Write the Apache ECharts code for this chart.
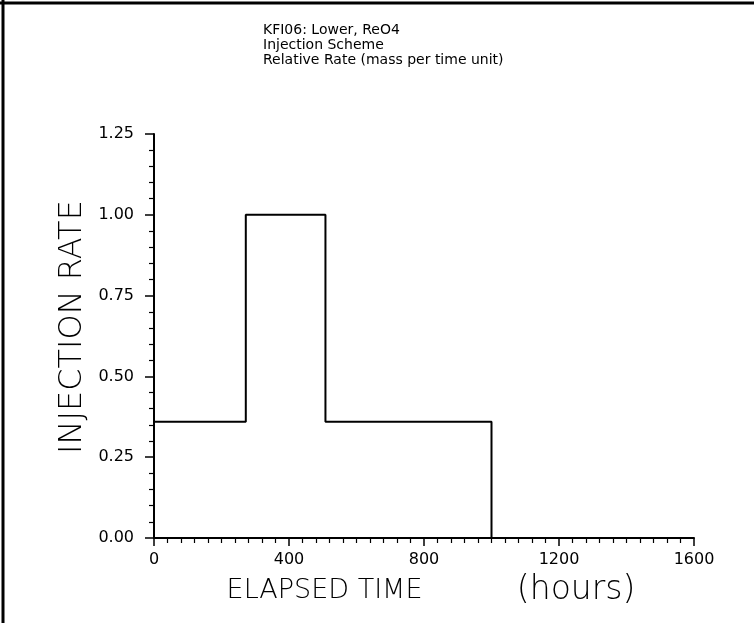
<!DOCTYPE html>
<html>
<head>
<meta charset="utf-8">
<script src="https://cdn.jsdelivr.net/npm/echarts@6/dist/echarts.min.js"></script>
<style>
html,body{margin:0;padding:0;background:#fff;}
#chart{width:754px;height:623px;}
</style>
</head>
<body>
<div id="chart"></div>
<script>
// Data
var titleLines = ["KFI06: Lower, ReO4", "Injection Scheme", "Relative Rate (mass per time unit)"];
var times = [0, 272, 272, 508, 508, 1000, 1000];
var rates = [0.36, 0.36, 1.00, 1.00, 0.36, 0.36, 0.00];
var xTicks = [0, 400, 800, 1200, 1600];
var yTicks = [0.00, 0.25, 0.50, 0.75, 1.00, 1.25];
var xNameMain = "ELAPSED TIME";
var xNameUnit = "(hours)";
var yName = "INJECTION RATE";

var chart = echarts.init(document.getElementById('chart'), null, {renderer: 'canvas'});
var font = "'DejaVu Sans', sans-serif";
var pts = times.map(function (t, i) { return [t, rates[i]]; });

chart.setOption({
  backgroundColor: '#fff',
  animation: false,
  title: {
    text: titleLines.join('\n'),
    left: 258, top: 18,
    textStyle: {fontFamily: font, fontSize: 14, fontWeight: 'normal', color: '#000', lineHeight: 15}
  },
  grid: {left: 154, right: 60, top: 134, bottom: 85},
  xAxis: {
    type: 'value', min: xTicks[0], max: xTicks[xTicks.length - 1], interval: 400,
    name: '{a|' + xNameMain + '}{a|           }{b|' + xNameUnit + '}',
    nameLocation: 'middle', nameGap: 36, nameMoveOverlap: false,
    nameTextStyle: {fontFamily: font, fontSize: 27, fontWeight: 200, color: '#000', padding: [0, 0, 0, 14],
      rich: {
        a: {fontFamily: font, fontSize: 27, fontWeight: 200, color: '#000'},
        b: {fontFamily: font, fontSize: 33, fontWeight: 200, color: '#000'}
      }},
    axisLine: {show: true, onZero: false, lineStyle: {color: '#000', width: 2}},
    axisTick: {show: true, inside: false, length: 8, lineStyle: {color: '#000', width: 1.5}},
    minorTick: {show: true, splitNumber: 10, length: 5, lineStyle: {color: '#000', width: 1.2}},
    splitLine: {show: false},
    axisLabel: {fontFamily: font, fontSize: 16, color: '#000', margin: 14,
      formatter: function (v) { return String(v); }}
  },
  yAxis: {
    type: 'value', min: yTicks[0], max: yTicks[yTicks.length - 1], interval: 0.25,
    name: yName, nameLocation: 'middle', nameGap: 65, nameRotate: 90, nameMoveOverlap: false,
    nameTextStyle: {fontFamily: font, fontSize: 32, fontWeight: 200, color: '#000', padding: [0, 0, 0, 18]},
    axisLine: {show: true, lineStyle: {color: '#000', width: 2}},
    axisTick: {show: true, inside: false, length: 9, lineStyle: {color: '#000', width: 1.5}},
    minorTick: {show: true, splitNumber: 5, length: 5, lineStyle: {color: '#000', width: 1.2}},
    splitLine: {show: false},
    axisLabel: {fontFamily: font, fontSize: 16, color: '#000', margin: 20,
      formatter: function (v) { return v.toFixed(2); }}
  },
  series: [{
    type: 'line', data: pts, showSymbol: false, symbol: 'none',
    lineStyle: {color: '#000', width: 2}
  }],
  graphic: [
    {type: 'line', shape: {x1: 0, y1: 3, x2: 754, y2: 3}, style: {stroke: '#000', lineWidth: 3}},
    {type: 'line', shape: {x1: 3, y1: 0, x2: 3, y2: 623}, style: {stroke: '#000', lineWidth: 3}}
  ]
});
</script>
</body>
</html>
